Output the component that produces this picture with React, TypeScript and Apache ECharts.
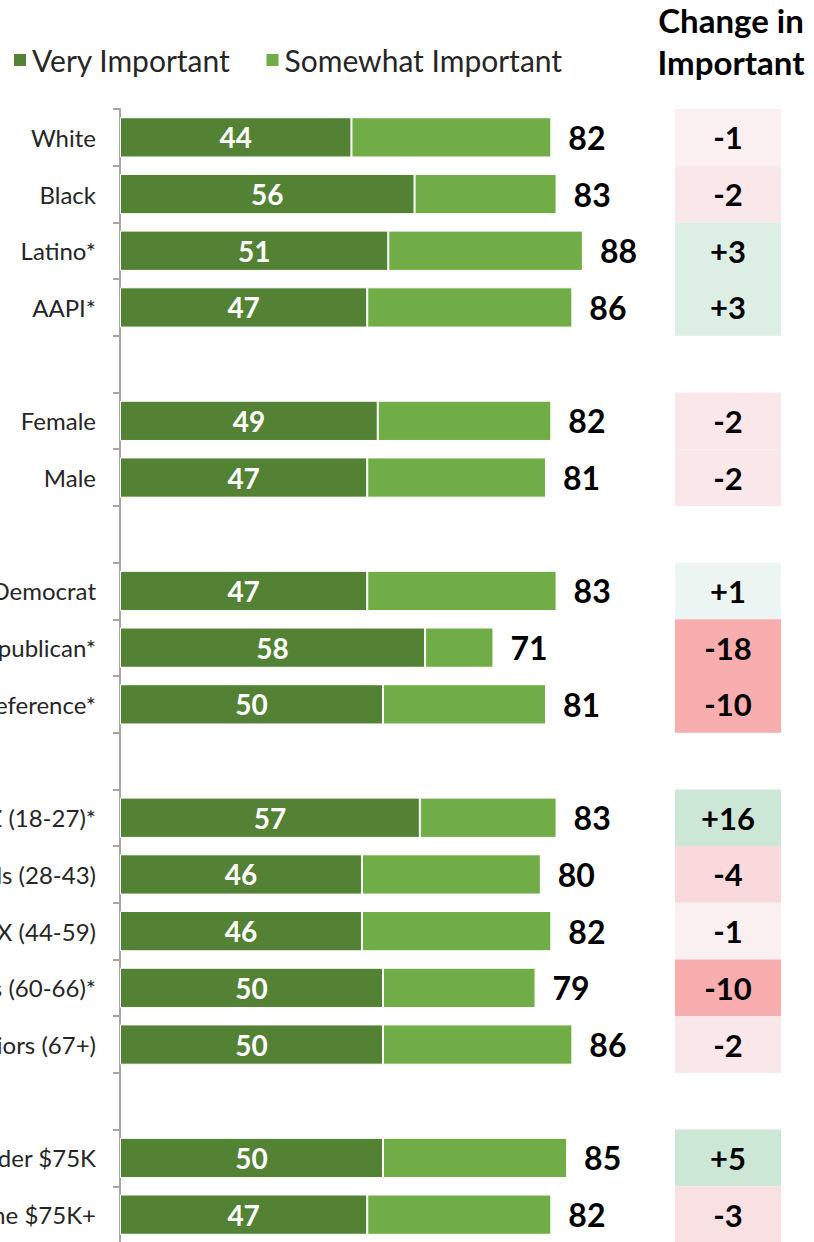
import React, { useEffect, useRef } from "react";
import * as echarts from "echarts";

const categories = [
  "White", "Black", "Latino*", "AAPI*", "gap1",
  "Female", "Male", "gap2",
  "Democrat", "Republican*", "No Party Preference*", "gap3",
  "Gen Z (18-27)*", "Millennials (28-43)", "Gen X (44-59)", "Boomers (60-66)*", "Seniors (67+)", "gap4",
  "Income under $75K", "Income $75K+",
];
const veryImportant = [44, 56, 51, 47, null, 49, 47, null, 47, 58, 50, null, 57, 46, 46, 50, 50, null, 50, 47];
const totalImportant = [82, 83, 88, 86, null, 82, 81, null, 83, 71, 81, null, 83, 80, 82, 79, 86, null, 85, 82];
const changeImportant = [-1, -2, 3, 3, null, -2, -2, null, 1, -18, -10, null, 16, -4, -1, -10, -2, null, 5, -3];
const headerLines = ["Change in", "Important"];

const FONT = "Lato, 'Open Sans', sans-serif";

function mix(a: number[], b: number[], t: number) {
  const c = a.map((v, i) => Math.round(v + (b[i] - v) * t));
  return `rgb(${c[0]},${c[1]},${c[2]})`;
}
function changeColor(v: number) {
  if (v < 0) return mix([250, 246, 248], [248, 173, 175], Math.min(1, -v / 10));
  return mix([244, 249, 249], [205, 231, 214], Math.min(1, v / 5));
}

export default function App() {
  const ref = useRef<HTMLDivElement>(null);
  useEffect(() => {
    if (!ref.current) return;
    const chart = echarts.init(ref.current, null, { renderer: "svg" });
    const somewhat = totalImportant.map((t, i) =>
      t == null || veryImportant[i] == null ? null : t - (veryImportant[i] as number)
    );
    chart.setOption({
      animation: false,
      legend: {
        left: 7,
        top: 40,
        itemWidth: 14,
        itemHeight: 14,
        itemGap: 34,
        icon: "rect",
        textStyle: { fontFamily: FONT, fontSize: 30, color: "#262626" },
        data: ["Very Important", "Somewhat Important"],
      },
      graphic: headerLines.map((t, i) => ({
        type: "text",
        x: 731,
        y: 20 + i * 42,
        style: {
          text: t,
          textAlign: "center",
          textVerticalAlign: "middle",
          font: `bold 33px ${FONT}`,
          fill: "#000",
        },
      })),
      grid: [
        { left: 120, right: 168, top: 109, bottom: 7, outerBoundsMode: "none", containLabel: false },
        { left: 675, width: 106, top: 109, bottom: 7, outerBoundsMode: "none", containLabel: false },
      ],
      xAxis: [
        { type: "value", min: 0, max: 100, show: false, gridIndex: 0 },
        { type: "value", min: 0, max: 1, show: false, gridIndex: 1 },
      ],
      yAxis: [
        {
          type: "category",
          gridIndex: 0,
          inverse: true,
          data: categories,
          axisLine: { show: true, lineStyle: { color: "#A6A6A6", width: 2 } },
          axisTick: { show: true, length: 7, lineStyle: { color: "#A6A6A6", width: 2 } },
          axisLabel: {
            margin: 24,
            fontFamily: FONT,
            fontSize: 24,
            color: "#262626",
            formatter: (v: string) => (v.startsWith("gap") ? "" : v),
          },
        },
        {
          type: "category",
          gridIndex: 1,
          inverse: true,
          data: categories,
          show: false,
        },
      ],
      series: [
        {
          name: "Very Important",
          type: "bar",
          stack: "a",
          barWidth: "71%",
          data: veryImportant,
          itemStyle: { color: "#548235", borderColor: "#fff", borderWidth: 1 },
          label: {
            show: true,
            position: "inside",
            color: "#fff",
            fontFamily: FONT,
            fontWeight: "bold",
            fontSize: 28,
          },
        },
        {
          name: "Somewhat Important",
          type: "bar",
          stack: "a",
          barWidth: "71%",
          data: somewhat,
          itemStyle: { color: "#70AD47", borderColor: "#fff", borderWidth: 1 },
          label: {
            show: true,
            position: "right",
            distance: 17,
            color: "#000",
            fontFamily: FONT,
            fontWeight: "bold",
            fontSize: 32,
            formatter: (p: any) => String(totalImportant[p.dataIndex]),
          },
        },
        {
          name: "Change",
          type: "bar",
          xAxisIndex: 1,
          yAxisIndex: 1,
          barWidth: "100%",
          data: changeImportant.map((v) =>
            v == null ? null : { value: 1, itemStyle: { color: changeColor(v) } }
          ),
          label: {
            show: true,
            position: "inside",
            color: "#000",
            fontFamily: FONT,
            fontWeight: "bold",
            fontSize: 31,
            formatter: (p: any) => {
              const v = changeImportant[p.dataIndex] as number;
              return v > 0 ? `+${v}` : String(v);
            },
          },
        },
      ],
    });
    return () => chart.dispose();
  }, []);
  return (
    <div
      ref={ref}
      style={{ position: "absolute", left: 0, top: 0, width: 814, height: 1250 }}
    />
  );
}
